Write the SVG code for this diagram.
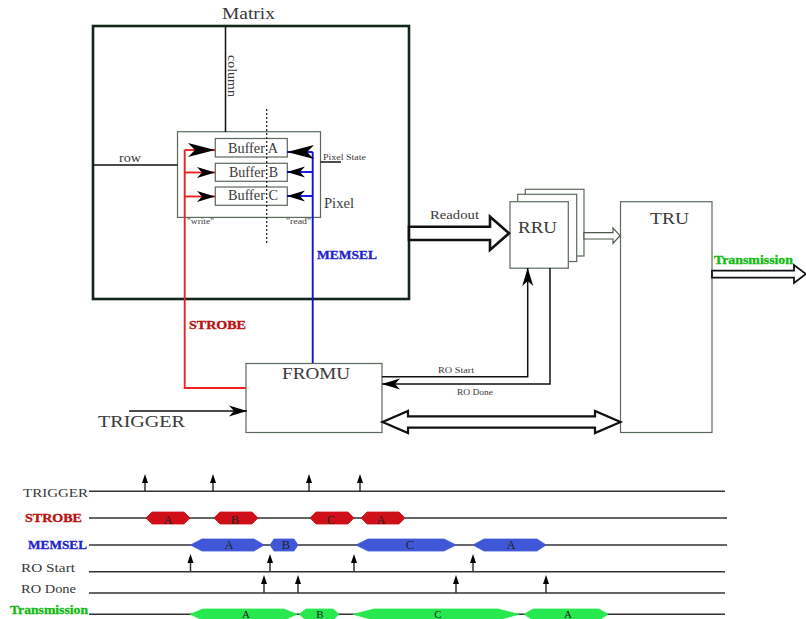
<svg xmlns="http://www.w3.org/2000/svg" width="806" height="619" viewBox="0 0 806 619">
<style>
text{font-family:"Liberation Serif","Times New Roman",serif;fill:#3a3a3a}
.box{fill:#fff;stroke:#5a6a5a;stroke-width:1.2}
.bold{font-weight:bold;stroke-width:.35px}
.w{fill:none;stroke:#111;stroke-width:1.5}
.red{fill:none;stroke:#ee2222;stroke-width:1.9}
.blue{fill:none;stroke:#1111dd;stroke-width:1.9}
.tl{fill:none;stroke:#333;stroke-width:1.5}
.bl{fill:#fff;stroke:#111;stroke-width:1.8}
.hollow{fill:#fff;stroke:#4a5a4a;stroke-width:1.2}
.r{fill:#d01018;stroke:#d01018;stroke-width:.8}.b{fill:#4058d8;stroke:#4058d8;stroke-width:.8}.g{fill:#28e850;stroke:#28e850;stroke-width:.8}
.sig{font-size:12.5px;fill:#222}
</style>
<defs>
<marker id="big" markerUnits="userSpaceOnUse" markerWidth="30" markerHeight="20" refX="27" refY="10" orient="auto"><path d="M0 3 L27 10 L0 17 L7 10Z" fill="#000"/></marker>
<marker id="mid" markerUnits="userSpaceOnUse" markerWidth="20" markerHeight="14" refX="18" refY="7" orient="auto"><path d="M0 1.500 L18 7 L0 12.500 L5 7Z" fill="#000"/></marker>
</defs>

<g id="matrix">
<rect x="93" y="26" width="316" height="273" fill="#fff" stroke="#12261a" stroke-width="2.6"/>
<text x="222" y="19" font-size="17.500" textLength="53" lengthAdjust="spacingAndGlyphs">Matrix</text>
</g>
<g id="pixel">
<rect class="box" x="177.5" y="131.7" width="143" height="85.7"/>
<text x="324" y="208" font-size="14" textLength="30" lengthAdjust="spacingAndGlyphs">Pixel</text>
<text x="187" y="224" font-size="8" textLength="27" lengthAdjust="spacingAndGlyphs">"write"</text>
<text x="286" y="224" font-size="8" textLength="25" lengthAdjust="spacingAndGlyphs">"read"</text>
</g>
<g id="bufferA"><rect class="box" x="215.3" y="138.5" width="72" height="18.5"/><text x="228" y="153" font-size="14" textLength="50" lengthAdjust="spacingAndGlyphs">Buffer A</text></g>
<g id="bufferB"><rect class="box" x="215.3" y="163.3" width="72" height="18"/><text x="229" y="177" font-size="14" textLength="49" lengthAdjust="spacingAndGlyphs">Buffer B</text></g>
<g id="bufferC"><rect class="box" x="215.3" y="187" width="72" height="18.3"/><text x="228" y="200" font-size="14" textLength="50" lengthAdjust="spacingAndGlyphs">Buffer C</text></g>
<g id="rru">
<rect class="box" x="525.3" y="189.3" width="58.7" height="66.7"/>
<rect class="box" x="517.7" y="194.3" width="59" height="67.2"/>
<rect class="box" x="510" y="201.7" width="58.3" height="66.5"/>
<text x="518" y="233" font-size="17.500" textLength="39" lengthAdjust="spacingAndGlyphs">RRU</text>
</g>
<g id="tru">
<rect class="box" x="620.5" y="201.7" width="91.5" height="230.8"/>
<text x="650" y="224" font-size="17.500" textLength="39" lengthAdjust="spacingAndGlyphs">TRU</text>
</g>
<g id="fromu">
<rect class="box" x="246" y="363.5" width="136" height="69"/>
<text x="282" y="379" font-size="17.500" textLength="68" lengthAdjust="spacingAndGlyphs">FROMU</text>
</g>

<g id="connectors">
<path class="w" d="M225.5 26V132"/>
<path class="w" d="M93 165H177.5"/>
<path d="M266.7 109V243" fill="none" stroke="#111" stroke-width="1.2" stroke-dasharray="2 2"/>
<path class="w" d="M320.5 162H341"/>
<path class="red" d="M246 388H184.700V150"/>
<path class="red" d="M184.700 150H215" marker-end="url(#big)"/>
<path class="red" d="M184.700 172.500H215" marker-end="url(#mid)"/>
<path class="red" d="M184.700 196.500H215" marker-end="url(#mid)"/>
<path class="blue" d="M312.700 363V152"/>
<path class="blue" d="M312.700 152H287" marker-end="url(#big)"/>
<path class="blue" d="M312.700 172H287" marker-end="url(#mid)"/>
<path class="blue" d="M312.700 196H287" marker-end="url(#mid)"/>
<path class="bl" style="stroke-width:2.6" d="M409 226.700H490V216.700L509 233.300L490 250V240H409Z"/>
<path class="hollow" d="M584 232.700H613V228L620 235.700L613 243.500V239H584Z"/>
<path class="bl" d="M712 270.700H794V265L806 274L794 283V277.600H712Z"/>
<path class="bl" style="stroke-width:2.2" d="M382.500 422L408 411V416.300H595V411L620.500 422L595 433V427.700H408V433Z"/>
<path class="w" d="M382 376.700H527.700V268" marker-end="url(#mid)"/>
<path class="w" d="M550 268V384H382" marker-end="url(#mid)"/>
<path class="w" d="M129 411H247" marker-end="url(#mid)"/>
</g>

<g id="labels">
<text x="228" y="55" font-size="12.500" textLength="42" lengthAdjust="spacingAndGlyphs" transform="rotate(90 228 55)">column</text>
<text x="119" y="162" font-size="12.500" textLength="22" lengthAdjust="spacingAndGlyphs">row</text>
<text x="323" y="159.500" font-size="8" textLength="43" lengthAdjust="spacingAndGlyphs">Pixel State</text>
<text class="bold" x="317" y="259" font-size="13" textLength="60" lengthAdjust="spacingAndGlyphs" style="fill:#2222cc;stroke:#2222cc">MEMSEL</text>
<text class="bold" x="189" y="329" font-size="13" textLength="57" lengthAdjust="spacingAndGlyphs" style="fill:#bb1111;stroke:#bb1111">STROBE</text>
<text x="430" y="219" font-size="12.500" textLength="49" lengthAdjust="spacingAndGlyphs">Readout</text>
<text class="bold" x="714" y="264" font-size="13" textLength="79" lengthAdjust="spacingAndGlyphs" style="fill:#11bb11;stroke:#11bb11">Transmission</text>
<text x="438" y="373" font-size="8.500" textLength="36" lengthAdjust="spacingAndGlyphs">RO Start</text>
<text x="457" y="395" font-size="8.500" textLength="36" lengthAdjust="spacingAndGlyphs">RO Done</text>
<text x="98" y="427" font-size="17.500" textLength="87" lengthAdjust="spacingAndGlyphs">TRIGGER</text>
</g>

<g id="timing">
<path class="tl" d="M89 491.300H725M89 518H727M89 545H727M89 571.700H725M89 593H725M89 614.300H725"/>
<path class="tl" d="M145 491V478M213 491V478M309 491V478M360 491V478M190.500 571.700V558M270 571.700V558M354 571.700V558M473 571.700V558M264 593V579M298 593V579M456 593V579M546 593V579"/>
<path fill="#000" d="M145 474l-3 9h6zM213 474l-3 9h6zM309 474l-3 9h6zM360 474l-3 9h6zM190.500 554l-3 9h6zM270 554l-3 9h6zM354 554l-3 9h6zM473 554l-3 9h6zM264 575l-3 9h6zM298 575l-3 9h6zM456 575l-3 9h6zM546 575l-3 9h6z"/>
<polygon class="r" points="146,518 152,512 184,512 190,518 184,524 152,524"/>
<polygon class="r" points="214,518 220,512 252,512 258,518 252,524 220,524"/>
<polygon class="r" points="310,518 316,512 348,512 354,518 348,524 316,524"/>
<polygon class="r" points="361,518 367,512 399,512 405,518 399,524 367,524"/>
<polygon class="b" points="190.500,545 202,539 254,539 264,545 254,551 202,551"/>
<polygon class="b" points="270,545 274,539 294,539 298,545 294,551 274,551"/>
<polygon class="b" points="356,545 368,539 444,539 456,545 444,551 368,551"/>
<polygon class="b" points="473,545 484,539 537,539 546,545 537,551 484,551"/>
<polygon class="g" points="190,614.300 203,609 284,609 297,614.300 284,620 203,620"/>
<polygon class="g" points="299,614.300 306,609 333,609 339,614.300 333,620 306,620"/>
<polygon class="g" points="353,614.300 374,609 498,609 519,614.300 498,620 374,620"/>
<polygon class="g" points="524,614.300 533,609 599,609 608,614.300 599,620 533,620"/>
<text class="sig" x="168" y="524" text-anchor="middle">A</text>
<text class="sig" x="235" y="524" text-anchor="middle">B</text>
<text class="sig" x="331" y="524" text-anchor="middle">C</text>
<text class="sig" x="381" y="524" text-anchor="middle">A</text>
<text class="sig" x="229" y="549" text-anchor="middle">A</text>
<text class="sig" x="286" y="549" text-anchor="middle">B</text>
<text class="sig" x="410" y="549" text-anchor="middle">C</text>
<text class="sig" x="511" y="549" text-anchor="middle">A</text>
<text class="sig" x="246" y="618" text-anchor="middle" style="font-size:11px">A</text>
<text class="sig" x="320" y="618" text-anchor="middle" style="font-size:11px">B</text>
<text class="sig" x="438" y="618" text-anchor="middle" style="font-size:11px">C</text>
<text class="sig" x="568" y="618" text-anchor="middle" style="font-size:11px">A</text>
<text x="23" y="497" font-size="13.500" textLength="65" lengthAdjust="spacingAndGlyphs">TRIGGER</text>
<text class="bold" x="25" y="522" font-size="13" textLength="57" lengthAdjust="spacingAndGlyphs" style="fill:#bb1111;stroke:#bb1111">STROBE</text>
<text class="bold" x="28" y="549" font-size="13" textLength="59" lengthAdjust="spacingAndGlyphs" style="fill:#2222cc;stroke:#2222cc">MEMSEL</text>
<text x="21" y="572" font-size="13.500" textLength="54" lengthAdjust="spacingAndGlyphs">RO Start</text>
<text x="21" y="593" font-size="13.500" textLength="55" lengthAdjust="spacingAndGlyphs">RO Done</text>
<text class="bold" x="10" y="614" font-size="13" textLength="78" lengthAdjust="spacingAndGlyphs" style="fill:#11bb11;stroke:#11bb11">Transmission</text>
</g>
</svg>
